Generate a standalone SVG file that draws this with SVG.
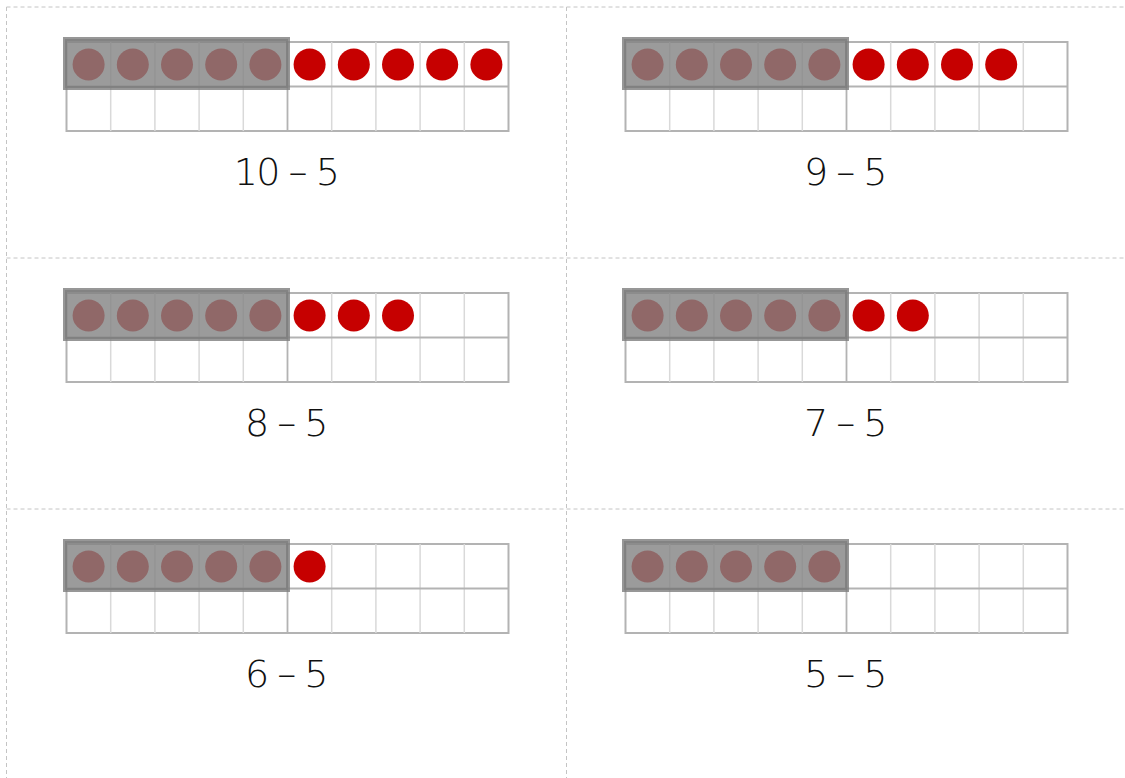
<svg xmlns="http://www.w3.org/2000/svg" xmlns:xlink="http://www.w3.org/1999/xlink" width="1125" height="778" viewBox="0 0 1125 778">
<style>
.dash{stroke:#c4c4c4;stroke-width:1;stroke-dasharray:4 3;fill:none}
.outer{fill:#fff;stroke:#b3b3b3;stroke-width:2}
.inner{stroke:#d9d9d9;stroke-width:1.5}
.mid{stroke:#b3b3b3;stroke-width:1.8}
.red{fill:#c60000}
.cover{fill:rgb(130,130,130);fill-opacity:0.8;stroke:rgb(125,125,125);stroke-opacity:0.8;stroke-width:4}
.lbl{font-family:"DejaVu Sans","Liberation Sans",sans-serif;font-weight:200;font-size:38px;letter-spacing:-1.5px;word-spacing:-1px;fill:#111;text-anchor:middle}
</style>
<defs>
<g id="frame">
<rect class="outer" x="66.5" y="42" width="442" height="89"/>
<path class="inner" d="M110.7 42V131M154.9 42V131M199.1 42V131M243.3 42V131M331.7 42V131M375.9 42V131M420.1 42V131M464.3 42V131"/>
<path class="mid" d="M66.5 86.5H508.5M287.5 42V131"/>
</g>
<g id="five">
<circle class="red" cx="88.6" cy="64.5" r="16"/>
<circle class="red" cx="132.8" cy="64.5" r="16"/>
<circle class="red" cx="177" cy="64.5" r="16"/>
<circle class="red" cx="221.2" cy="64.5" r="16"/>
<circle class="red" cx="265.4" cy="64.5" r="16"/>
</g>
<rect id="cover" class="cover" x="65" y="39" width="223" height="49"/>
<circle id="r6" class="red" cx="309.6" cy="64.5" r="16"/>
<circle id="r7" class="red" cx="353.8" cy="64.5" r="16"/>
<circle id="r8" class="red" cx="398" cy="64.5" r="16"/>
<circle id="r9" class="red" cx="442.2" cy="64.5" r="16"/>
<circle id="r10" class="red" cx="486.4" cy="64.5" r="16"/>
</defs>
<rect width="1125" height="778" fill="#fff"/>
<g id="cutlines">
<path class="dash" d="M6.5 7H1125M6.5 7V778M566.5 7V778M6.5 258H1125M6.5 509H1125"/>
</g>
<g id="card-10-5">
<use xlink:href="#frame"/><use xlink:href="#five"/><use xlink:href="#r6"/><use xlink:href="#r7"/><use xlink:href="#r8"/><use xlink:href="#r9"/><use xlink:href="#r10"/><use xlink:href="#cover"/>
<text class="lbl" x="286" y="185">10 – 5</text>
</g>
<g id="card-9-5" transform="translate(559,0)">
<use xlink:href="#frame"/><use xlink:href="#five"/><use xlink:href="#r6"/><use xlink:href="#r7"/><use xlink:href="#r8"/><use xlink:href="#r9"/><use xlink:href="#cover"/>
<text class="lbl" x="286" y="185">9 – 5</text>
</g>
<g id="card-8-5" transform="translate(0,251)">
<use xlink:href="#frame"/><use xlink:href="#five"/><use xlink:href="#r6"/><use xlink:href="#r7"/><use xlink:href="#r8"/><use xlink:href="#cover"/>
<text class="lbl" x="286" y="185">8 – 5</text>
</g>
<g id="card-7-5" transform="translate(559,251)">
<use xlink:href="#frame"/><use xlink:href="#five"/><use xlink:href="#r6"/><use xlink:href="#r7"/><use xlink:href="#cover"/>
<text class="lbl" x="286" y="185">7 – 5</text>
</g>
<g id="card-6-5" transform="translate(0,502)">
<use xlink:href="#frame"/><use xlink:href="#five"/><use xlink:href="#r6"/><use xlink:href="#cover"/>
<text class="lbl" x="286" y="185">6 – 5</text>
</g>
<g id="card-5-5" transform="translate(559,502)">
<use xlink:href="#frame"/><use xlink:href="#five"/><use xlink:href="#cover"/>
<text class="lbl" x="286" y="185">5 – 5</text>
</g>
</svg>
